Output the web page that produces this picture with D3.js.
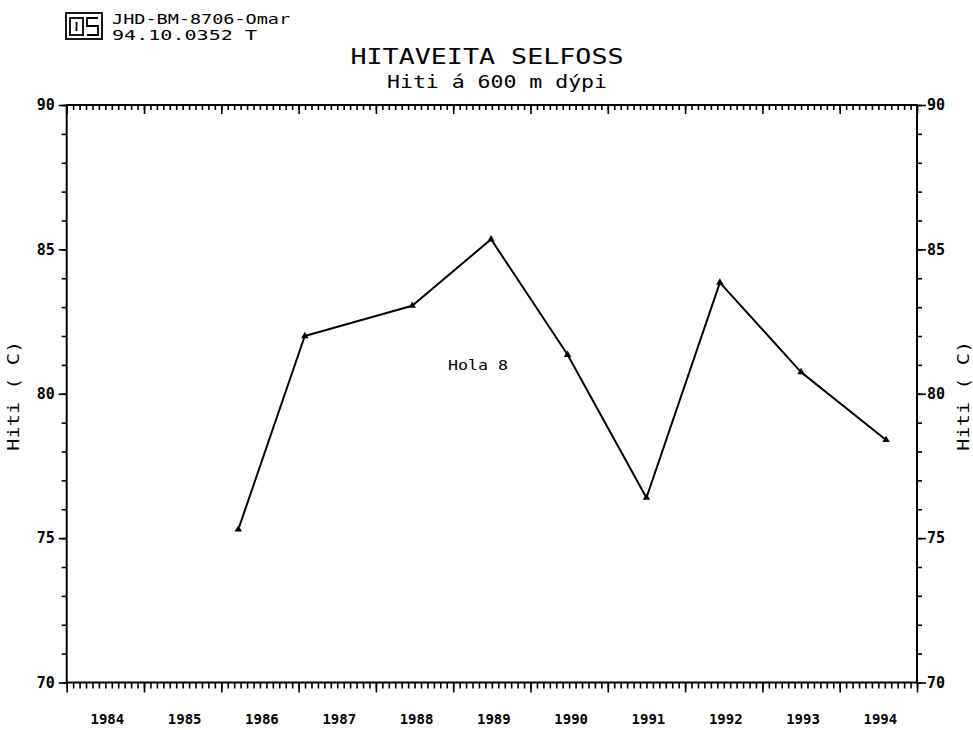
<!DOCTYPE html>
<html>
<head>
<meta charset="utf-8">
<script src="https://cdn.jsdelivr.net/npm/d3@7"></script>
<style>
  html, body { margin: 0; padding: 0; background: #fff; }
  svg { display: block; }
  text { font-family: "DejaVu Sans Mono", "Liberation Mono", monospace; fill: #000; }
</style>
</head>
<body>
<svg id="chart" width="973" height="730"></svg>
<script>
// ---- data ----
const sampleYears = [1986.22, 1987.08, 1988.47, 1989.49, 1990.48, 1991.50, 1992.45, 1993.50, 1994.60];
const temperatures = [75.3, 82.0, 83.05, 85.35, 81.35, 76.4, 83.85, 80.75, 78.4];
const yearLabels = [1984, 1985, 1986, 1987, 1988, 1989, 1990, 1991, 1992, 1993, 1994];
const yMajorTicks = [70, 75, 80, 85, 90];
const titleText = "HITAVEITA SELFOSS";
const subtitleText = "Hiti á 600 m dýpi";
const yAxisTitle = "Hiti  ( C)";
const seriesLabel = "Hola 8";
const headerLine1 = "JHD-BM-8706-Omar";
const headerLine2 = "94.10.0352   T";

// ---- layout ----
const svg = d3.select("#chart");
const pLeft = 66.7, pRight = 917, pTop = 105, pBottom = 682.5;

const x = d3.scaleLinear().domain([1984, 1995]).range([pLeft, pRight]);
const y = d3.scaleLinear().domain([70, 90]).range([pBottom, pTop]);

const monthTicks = d3.range(0, 11 * 12 + 1).map(i => 1984 + i / 12);
const yearTicks = d3.range(1984, 1996);
const yMinor = d3.range(70, 91);

function styleAxis(g) {
  g.selectAll("path").remove();
  g.selectAll("line").attr("stroke", "#000").attr("stroke-width", 1.6);
}

// bottom axis: ticks pointing down
svg.append("g").attr("transform", `translate(0,${pBottom})`)
  .call(d3.axisBottom(x).tickValues(monthTicks).tickSize(6).tickFormat(""))
  .call(styleAxis);
svg.append("g").attr("transform", `translate(0,${pBottom})`)
  .call(d3.axisBottom(x).tickValues(yearTicks).tickSize(10).tickFormat(""))
  .call(styleAxis);
// top axis: ticks pointing down (into plot)
svg.append("g").attr("transform", `translate(0,${pTop})`)
  .call(d3.axisBottom(x).tickValues(monthTicks).tickSize(5).tickFormat(""))
  .call(styleAxis);
svg.append("g").attr("transform", `translate(0,${pTop})`)
  .call(d3.axisBottom(x).tickValues(yearTicks).tickSize(9).tickFormat(""))
  .call(styleAxis);

// left axis
svg.append("g").attr("transform", `translate(${pLeft},0)`)
  .call(d3.axisLeft(y).tickValues(yMinor).tickSize(5).tickFormat(""))
  .call(styleAxis);
const gl = svg.append("g").attr("transform", `translate(${pLeft},0)`)
  .call(d3.axisLeft(y).tickValues(yMajorTicks).tickSize(8).tickPadding(4).tickFormat(d3.format("d")))
  .call(styleAxis);
gl.selectAll("text").style("font-family", "DejaVu Sans Mono").style("font-weight", "bold").style("font-size", "15px").attr("fill", "#000");

// right axis
svg.append("g").attr("transform", `translate(${pRight},0)`)
  .call(d3.axisRight(y).tickValues(yMinor).tickSize(5).tickFormat(""))
  .call(styleAxis);
const gr = svg.append("g").attr("transform", `translate(${pRight},0)`)
  .call(d3.axisRight(y).tickValues(yMajorTicks).tickSize(9).tickPadding(1).tickFormat(d3.format("d")))
  .call(styleAxis);
gr.selectAll("text").style("font-family", "DejaVu Sans Mono").style("font-weight", "bold").style("font-size", "15px").attr("fill", "#000");

// frame
svg.append("rect").attr("x", pLeft).attr("y", pTop)
  .attr("width", pRight - pLeft).attr("height", pBottom - pTop)
  .attr("fill", "none").attr("stroke", "#000").attr("stroke-width", 2);

// year labels centred in each year
svg.append("g").selectAll("text").data(yearLabels).join("text")
  .attr("x", d => x(d + 0.5) + 2)
  .attr("y", 724)
  .attr("text-anchor", "middle")
  .style("font-weight", "bold")
  .style("font-size", "14px")
  .text(d => d);

// data line
const pts = sampleYears.map((yr, i) => [yr, temperatures[i]]);
svg.append("path")
  .datum(pts)
  .attr("fill", "none")
  .attr("stroke", "#000")
  .attr("stroke-width", 2)
  .attr("stroke-linejoin", "round")
  .attr("d", d3.line().x(d => x(d[0])).y(d => y(d[1])));

// triangle markers
svg.append("g").selectAll("path").data(pts).join("path")
  .attr("transform", d => `translate(${x(d[0])},${y(d[1])})`)
  .attr("d", d3.symbol().type(d3.symbolTriangle).size(24))
  .attr("fill", "#000");

// series label
svg.append("text")
  .attr("x", 478).attr("y", 370)
  .attr("text-anchor", "middle")
  .attr("textLength", 60).attr("lengthAdjust", "spacingAndGlyphs")
  .style("font-size", "14px")
  .text(seriesLabel);

// titles
svg.append("text")
  .attr("x", 487).attr("y", 64)
  .attr("text-anchor", "middle")
  .attr("textLength", 273).attr("lengthAdjust", "spacingAndGlyphs")
  .style("font-size", "22px")
  .text(titleText);
svg.append("text")
  .attr("x", 497).attr("y", 88)
  .attr("text-anchor", "middle")
  .attr("textLength", 220).attr("lengthAdjust", "spacingAndGlyphs")
  .style("font-size", "17px")
  .text(subtitleText);

// y axis titles
const cy = (pTop + pBottom) / 2 + 2;
svg.append("text")
  .attr("transform", `translate(19,${cy}) rotate(-90)`)
  .attr("text-anchor", "middle")
  .attr("textLength", 110).attr("lengthAdjust", "spacingAndGlyphs")
  .style("font-size", "15px")
  .text(yAxisTitle);
svg.append("text")
  .attr("transform", `translate(969,${cy}) rotate(-90)`)
  .attr("text-anchor", "middle")
  .attr("textLength", 110).attr("lengthAdjust", "spacingAndGlyphs")
  .style("font-size", "15px")
  .text(yAxisTitle);

// header block
const hdr = svg.append("g");
hdr.append("rect").attr("x", 66).attr("y", 13).attr("width", 36).attr("height", 26)
  .attr("fill", "none").attr("stroke", "#000").attr("stroke-width", 1.8);
hdr.append("rect").attr("x", 70).attr("y", 18).attr("width", 13).attr("height", 17)
  .attr("fill", "none").attr("stroke", "#000").attr("stroke-width", 1.8);
hdr.append("line").attr("x1", 76.5).attr("x2", 76.5).attr("y1", 22).attr("y2", 31)
  .attr("stroke", "#000").attr("stroke-width", 1.8);
hdr.append("path").attr("d", "M98,18 H87 V26 H98 V35 H87")
  .attr("fill", "none").attr("stroke", "#000").attr("stroke-width", 1.8);
hdr.append("text").attr("x", 112).attr("y", 24)
  .attr("textLength", 178).attr("lengthAdjust", "spacingAndGlyphs")
  .style("font-size", "14px").text(headerLine1);
hdr.append("text").attr("x", 112).attr("y", 40)
  .attr("textLength", 145).attr("lengthAdjust", "spacingAndGlyphs")
  .style("font-size", "14px").text(headerLine2);
</script>
</body>
</html>
